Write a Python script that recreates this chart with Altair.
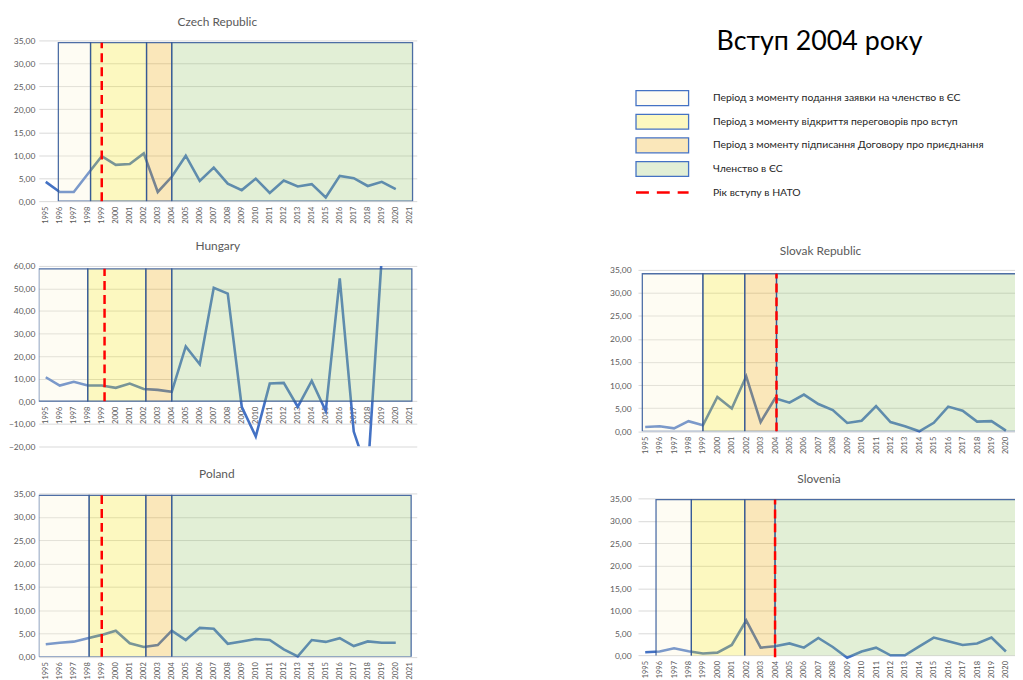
import altair as alt
import pandas as pd

# ---------------- data ----------------
years = list(range(1995, 2021))
czech = [4.2, 2.0, 2.0, 5.9, 9.8, 7.9, 8.1, 10.4, 2.0, 5.3, 9.9, 4.4, 7.3, 3.8, 2.4, 4.9,
         1.8, 4.5, 3.2, 3.7, 0.8, 5.5, 5.0, 3.3, 4.2, 2.6]
hungary = [10.6, 6.9, 8.6, 6.9, 6.9, 5.9, 7.8, 5.4, 5.0, 4.1, 24.3, 16.4, 50.3, 47.7, -2.5, -15.7,
           7.8, 8.1, -2.5, 9.0, -4.4, 54.5, -13.5, -32.0, 64.0, None]
poland = [2.7, 3.0, 3.25, 4.0, 4.7, 5.6, 2.9, 2.1, 2.5, 5.6, 3.6, 6.2, 6.0, 2.8, 3.3, 3.8,
          3.6, 1.6, 0.1, 3.6, 3.2, 4.0, 2.3, 3.3, 3.0, 3.0]
slovak = [0.95, 1.1, 0.65, 2.2, 1.3, 7.45, 4.95, 11.9, 2.0, 7.15, 6.2, 7.95, 5.9, 4.6, 1.8, 2.3,
          5.45, 2.0, 1.1, 0.0, 1.85, 5.35, 4.45, 2.1, 2.2, 0.15]
slovenia = [0.75, 0.9, 1.6, 0.95, 0.45, 0.65, 2.35, 7.8, 1.75, 2.05, 2.7, 1.75, 3.9, 1.9, -0.5, 0.9,
            1.75, 0.05, 0.05, 2.05, 4.0, 3.2, 2.35, 2.7, 4.0, 0.9]

# period boundaries (application, negotiations, treaty, membership, end of frame)
czech_periods = [1995.9, 1998.2, 2002.2, 2004.0, 2021.2]
hungary_periods = [1994.5, 1998.0, 2002.15, 2004.0, 2021.15]
poland_periods = [1994.5, 1998.1, 2002.15, 2004.0, 2021.1]
slovak_periods = [1994.8, 1999.0, 2001.9, 2004.1, 2021.2]
slovenia_periods = [1995.75, 1998.2, 2001.9, 2004.0, 2021.2]

czech_frame = [0, 34.5]
hungary_frame = [0, 58.7]
poland_frame = [0, 34.6]
slovak_frame = [0, 34.1]
slovenia_frame = [-0.4, 34.7]

czech_nato = 1999.0
hungary_nato = 1999.2
poland_nato = 1999.0
slovak_nato = 2004.1
slovenia_nato = 2004.0

phases = ["Період з моменту подання заявки на членство в ЄС",
          "Період з моменту відкриття переговорів про вступ",
          "Період з моменту підписання Договору про приєднання",
          "Членство в ЄС"]
nato_label = "Рік вступу в НАТО"
main_title = "Вступ 2004 року"

# ---------------- style ----------------
FILLS = ["#FCF5D7", "#F5E82D", "#EEAF19", "#9ECA76"]
FILL_OP = 0.3
FRAME = "#2F5597"
LINE = "#4472C4"
RED = "#FF0000"
FONT = "Lato"
GREY = "#595959"

ylabel = "replace(format(datum.value, '.2f'), '.', ',')"


def panel(name, values, periods, frame, nato, ydom, yvals, xdom, xvals, width, height,
          title_x, title_y, xoffset=0, clip=False, ypad=7):
    df = pd.DataFrame({"year": years, "value": values})
    rect_df = pd.DataFrame({"start": periods[:-1], "end": periods[1:], "phase": phases,
                            "bottom": frame[0], "top": frame[1]})
    nato_df = pd.DataFrame({"year": [nato], "bottom": [frame[0]], "top": [frame[1]]})
    title_df = pd.DataFrame({"t": [name]})

    xscale = alt.Scale(domain=xdom, nice=False, zero=False)
    yscale = alt.Scale(domain=ydom, nice=False, zero=False)
    xaxis = alt.Axis(values=xvals, format="d", labelAngle=-90, title=None, grid=False,
                     ticks=False, domain=False, labelFont=FONT, labelFontSize=7.5,
                     labelColor=GREY, labelPadding=5, offset=xoffset, labelOverlap=False)
    yaxis = alt.Axis(values=yvals, labelExpr=ylabel,
                     title=None, grid=True, gridColor="#D9D9D9", gridWidth=1, ticks=False,
                     domain=False, labelFont=FONT, labelFontSize=8.5, labelColor=GREY,
                     labelPadding=ypad)

    line = alt.Chart(df).mark_line(color=LINE, strokeWidth=2.6, clip=clip).encode(
        x=alt.X("year:Q", scale=xscale, axis=xaxis),
        y=alt.Y("value:Q", scale=yscale, axis=yaxis),
    )
    rects = alt.Chart(rect_df).mark_rect(fillOpacity=FILL_OP, stroke=FRAME, strokeWidth=1.3,
                                         strokeOpacity=0.85, clip=True).encode(
        x=alt.X("start:Q", scale=xscale, axis=xaxis),
        x2="end:Q",
        y=alt.Y("bottom:Q", scale=yscale, axis=yaxis),
        y2="top:Q",
        color=alt.Color("phase:N", scale=alt.Scale(domain=phases, range=FILLS), legend=None),
    )
    rule = alt.Chart(nato_df).mark_rule(color=RED, strokeWidth=2.5, strokeDash=[9, 5]).encode(
        x=alt.X("year:Q", scale=xscale, axis=xaxis),
        y=alt.Y("bottom:Q", scale=yscale, axis=yaxis),
        y2="top:Q",
    )
    title = alt.Chart(title_df).mark_text(font=FONT, fontSize=12, color=GREY, align="center",
                                          baseline="alphabetic").encode(
        text="t:N", x=alt.value(title_x), y=alt.value(title_y))
    return alt.layer(line, rects, rule, title).properties(width=width, height=height)


LW = 381
LX = [1994.5, 2021.5]
LV = list(range(1995, 2022))
RW = 380
RX = [1994.5, 2020.63]
RV = list(range(1995, 2021))
Y35 = list(range(0, 36, 5))

cz = panel("Czech Republic", czech, czech_periods, czech_frame, czech_nato, [0, 35], Y35,
           LX, LV, LW, 162, 180, -14.5, ypad=4)
hu = panel("Hungary", hungary, hungary_periods, hungary_frame, hungary_nato, [-20, 60],
           list(range(-20, 61, 10)), LX, LV, LW, 181.7, 180.5, -15.7, xoffset=-45.4, clip=True,
           ypad=4)
pl = panel("Poland", poland, poland_periods, poland_frame, poland_nato, [0, 35], Y35,
           LX, LV, LW, 164.7, 179.5, -15.7, ypad=4)
sk = panel("Slovak Republic", slovak, slovak_periods, slovak_frame, slovak_nato, [0, 35.79], Y35,
           RX, RV, RW, 166.7, 184, -10.7)
si = panel("Slovenia", slovenia, slovenia_periods, slovenia_frame, slovenia_nato, [0, 36.1], Y35,
           RX, RV, RW, 163.4, 182.5, -10.7)

# ---------------- legend block ----------------
items = phases + [nato_label]
leg_df = pd.DataFrame({"item": items, "kind": ["box"] * 4 + ["dash"]})
ly = alt.Y("item:N", sort=items, axis=None,
           scale=alt.Scale(domain=items, range=[46.3, 165.3], paddingInner=0, paddingOuter=0))
leg_base = alt.Chart(leg_df)
boxes = leg_base.transform_filter(alt.datum.kind == "box").mark_bar(
    height=15, fillOpacity=FILL_OP, stroke="#4472C4", strokeWidth=1.3).encode(
    y=ly, x=alt.value(-2), x2=alt.value(51),
    color=alt.Color("item:N", scale=alt.Scale(domain=phases, range=FILLS), legend=None),
)
dash = leg_base.transform_filter(alt.datum.kind == "dash").mark_rule(
    color=RED, strokeWidth=2.5, strokeDash=[13, 8]).encode(
    y=ly, x=alt.value(-2), x2=alt.value(51),
)
texts = leg_base.mark_text(align="left", baseline="middle", font=FONT, fontSize=10.5,
                           color="#262626").encode(y=ly, x=alt.value(75.5), text="item:N")
big_title = alt.Chart(pd.DataFrame({"t": [main_title]})).mark_text(
    font=FONT, fontSize=27, color="#000000", align="center", baseline="alphabetic").encode(
    text="t:N", x=alt.value(183), y=alt.value(9.5))
legend = alt.layer(boxes, dash, texts, big_title).properties(width=RW, height=179.7)

chart = alt.concat(cz, legend, hu, sk, pl, si, columns=2,
                   spacing=alt.RowColnumber(row=47.3, column=223), bounds="flush").properties(
    padding={"left": 0, "top": 5, "right": 0, "bottom": 0}
).configure_view(stroke=None)

chart.save("out.html", embed_options={"renderer": "svg", "actions": False})
